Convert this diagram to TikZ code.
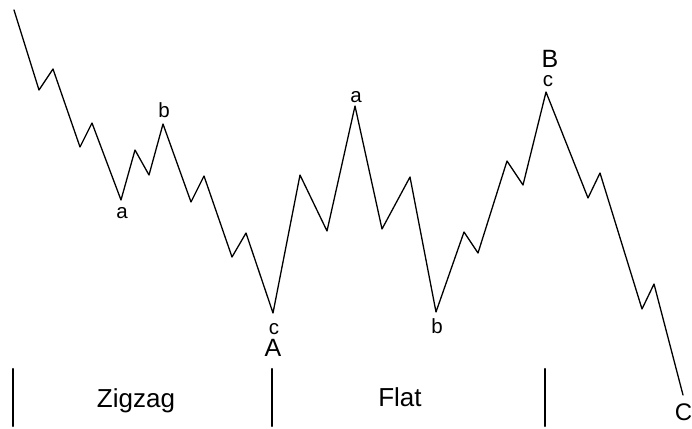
\documentclass[tikz,border=0pt]{standalone}
\usepackage{fontspec}
\setmainfont{Liberation Sans}
\tikzset{
  wave/.style={line width=1.3pt},
  sep/.style={line width=2.4pt},
  small/.style={inner sep=0pt, anchor=base, font=\fontsize{20.5}{24}\selectfont},
  big/.style={inner sep=0pt, anchor=base, font=\fontsize{25}{30}\selectfont}
}
\begin{document}
\begin{tikzpicture}[x=1pt, y=-1pt, line join=round, line cap=round]
	\useasboundingbox (0,0) rectangle (692,428);
	% price path
	\draw[wave] (14,10) -- (39,90) -- (53,69) -- (80,147) -- (92,123) -- (121,200) -- (135,150) -- (149,175) -- (163,124) -- (191,202) -- (204,176) -- (232,257) -- (246,233) -- (273,313) -- (300,175) -- (327,231) -- (355,106) -- (382,229) -- (410,177) -- (436,312) -- (464,232) -- (478,253) -- (507,161) -- (523,185) -- (546,92) -- (588,198) -- (600,173) -- (642,309) -- (654,284) -- (683,395);
	% wave labels
	\node[small] (za) at (122,218) {a};
	\node[small] (zb) at (164,117) {b};
	\node[small] (zc) at (274,334) {c};
	\node[big]   (wA) at (273,356) {A};
	\node[small] (fa) at (356,102) {a};
	\node[small] (fb) at (437,333) {b};
	\node[small] (fc) at (548,86) {c};
	\node[big]   (wB) at (550,67) {B};
	\node[big, font=\fontsize{24}{30}\selectfont] (wC) at (683.5,420) {C};
	% separators
	\foreach \x in {13,272,545}{\draw[sep] (\x,369) -- (\x,426);};
	\node[big, font=\fontsize{26}{30}\selectfont] (zigzag) at (136,407) {Zigzag};
	\node[big, font=\fontsize{26}{30}\selectfont] (flat) at (400,406) {Flat};
\end{tikzpicture}
\end{document}
